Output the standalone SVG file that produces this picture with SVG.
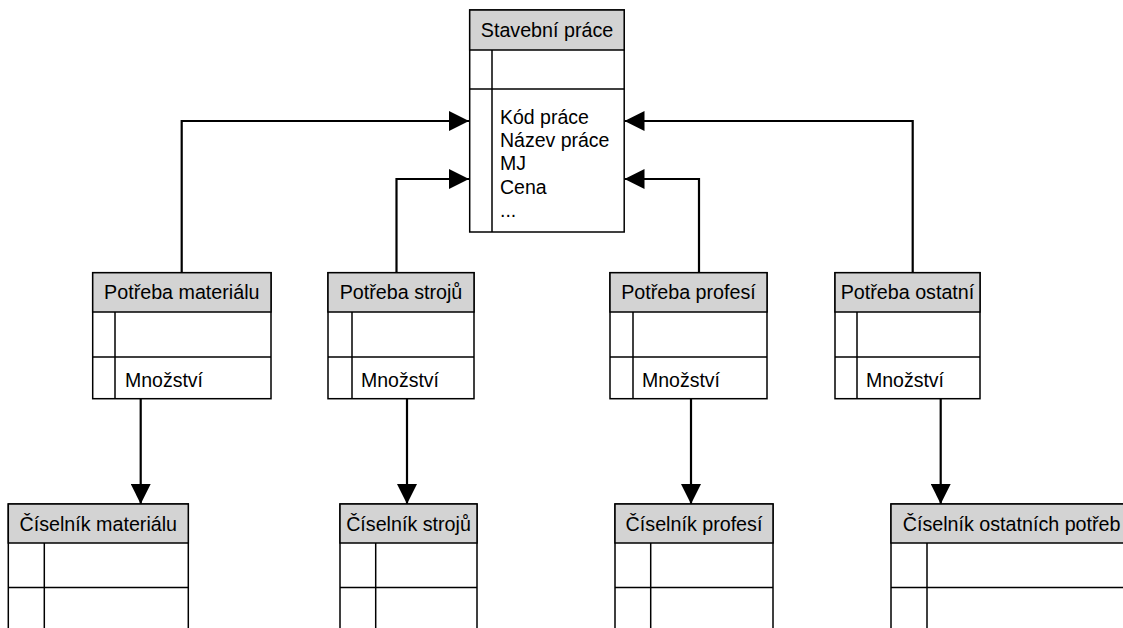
<svg xmlns="http://www.w3.org/2000/svg" width="1123" height="628" viewBox="0 0 1123 628">
<style>
.box{fill:#ffffff;stroke:#000;stroke-width:1.5}
.hdr{fill:#d3d3d3;stroke:#000;stroke-width:1.5}
.ln{stroke:#000;stroke-width:1.5;fill:none}
.ht{font-family:"Liberation Sans",Arial,sans-serif;font-size:19.7px;fill:#000;text-anchor:middle}
.bt{font-family:"Liberation Sans",Arial,sans-serif;font-size:19.5px;fill:#000}
.con{stroke:#000;stroke-width:2.2;fill:none;marker-end:url(#ah)}
</style>
<defs>
<marker id="ah" markerUnits="userSpaceOnUse" markerWidth="20" markerHeight="20" viewBox="0 0 20 20" refX="20" refY="10" orient="auto">
<path d="M0,0 L20,10 L0,20 Z" fill="#000"/>
</marker>
</defs>
<rect width="1123" height="628" fill="#fff"/>
<g id="connectors">
<path class="con" d="M181.7,272.7 V121 H469"/>
<path class="con" d="M396.5,272.7 V179 H469"/>
<path class="con" d="M699,272.7 V179 H624.5"/>
<path class="con" d="M912.7,272.7 V121 H624.5"/>
<path class="con" d="M140.7,399 V504"/>
<path class="con" d="M407,399 V504"/>
<path class="con" d="M691,399 V504"/>
<path class="con" d="M940.7,399 V504"/>
</g>
<g id="stavebni-prace">
<rect class="box" x="469.7" y="10" width="154.5" height="222"/>
<rect class="hdr" x="469.7" y="10" width="154.5" height="40"/>
<line class="ln" x1="469.7" y1="89" x2="624.2" y2="89"/>
<line class="ln" x1="492" y1="50" x2="492" y2="232"/>
<text class="ht" x="547" y="36.5">Stavební práce</text>
<text class="bt" x="500" y="123.5">Kód práce</text>
<text class="bt" x="500" y="146.5">Název práce</text>
<text class="bt" x="500" y="170">MJ</text>
<text class="bt" x="500" y="194">Cena</text>
<text class="bt" x="500" y="217">...</text>
</g>
<g id="potreba-materialu">
<rect class="box" x="92.7" y="272.7" width="178.3" height="126"/>
<rect class="hdr" x="92.7" y="272.7" width="178.3" height="39.3"/>
<line class="ln" x1="92.7" y1="357" x2="271" y2="357"/>
<line class="ln" x1="115" y1="312" x2="115" y2="398.7"/>
<text class="ht" x="181.8" y="299">Potřeba materiálu</text>
<text class="bt" x="125" y="387">Množství</text>
</g>
<g id="potreba-stroju">
<rect class="box" x="328" y="272.7" width="146" height="126"/>
<rect class="hdr" x="328" y="272.7" width="146" height="39.3"/>
<line class="ln" x1="328" y1="357" x2="474" y2="357"/>
<line class="ln" x1="352" y1="312" x2="352" y2="398.7"/>
<text class="ht" x="401" y="299">Potřeba strojů</text>
<text class="bt" x="361" y="387">Množství</text>
</g>
<g id="potreba-profesi">
<rect class="box" x="610" y="272.7" width="157" height="126"/>
<rect class="hdr" x="610" y="272.7" width="157" height="39.3"/>
<line class="ln" x1="610" y1="357" x2="767" y2="357"/>
<line class="ln" x1="633" y1="312" x2="633" y2="398.7"/>
<text class="ht" x="688.5" y="299">Potřeba profesí</text>
<text class="bt" x="642" y="387">Množství</text>
</g>
<g id="potreba-ostatni">
<rect class="box" x="835" y="272.7" width="145" height="126"/>
<rect class="hdr" x="835" y="272.7" width="145" height="39.3"/>
<line class="ln" x1="835" y1="357" x2="980" y2="357"/>
<line class="ln" x1="857" y1="312" x2="857" y2="398.7"/>
<text class="ht" x="907.5" y="299">Potřeba ostatní</text>
<text class="bt" x="866" y="387">Množství</text>
</g>
<g id="ciselnik-materialu">
<rect class="box" x="8.3" y="504" width="180" height="130"/>
<rect class="hdr" x="8.3" y="504" width="180" height="39"/>
<line class="ln" x1="8.3" y1="587.5" x2="188.3" y2="587.5"/>
<line class="ln" x1="44.3" y1="543" x2="44.3" y2="634"/>
<text class="ht" x="98.3" y="531">Číselník materiálu</text>
</g>
<g id="ciselnik-stroju">
<rect class="box" x="340" y="504" width="137" height="130"/>
<rect class="hdr" x="340" y="504" width="137" height="39"/>
<line class="ln" x1="340" y1="587.5" x2="477" y2="587.5"/>
<line class="ln" x1="375.7" y1="543" x2="375.7" y2="634"/>
<text class="ht" x="408.5" y="531">Číselník strojů</text>
</g>
<g id="ciselnik-profesi">
<rect class="box" x="615" y="504" width="158" height="130"/>
<rect class="hdr" x="615" y="504" width="158" height="39"/>
<line class="ln" x1="615" y1="587.5" x2="773" y2="587.5"/>
<line class="ln" x1="650.7" y1="543" x2="650.7" y2="634"/>
<text class="ht" x="694" y="531">Číselník profesí</text>
</g>
<g id="ciselnik-ostatnich-potreb">
<rect class="box" x="891" y="504" width="240" height="130"/>
<rect class="hdr" x="891" y="504" width="240" height="39"/>
<line class="ln" x1="891" y1="587.5" x2="1131" y2="587.5"/>
<line class="ln" x1="927" y1="543" x2="927" y2="634"/>
<text class="ht" x="902.7" y="531" style="text-anchor:start">Číselník ostatních potřeb</text>
</g>
</svg>
